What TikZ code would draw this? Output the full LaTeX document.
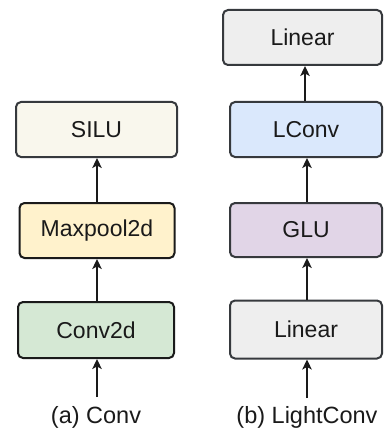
\documentclass[tikz,border=0pt]{standalone}
\usepackage{fontspec}
\setmainfont{Liberation Sans}
\usetikzlibrary{arrows.meta}
\definecolor{silufill}{HTML}{F9F7ED}
\definecolor{poolfill}{HTML}{FFF2CC}
\definecolor{convfill}{HTML}{D5E8D4}
\definecolor{linfill}{HTML}{EEEEEE}
\definecolor{lconvfill}{HTML}{DAE8FC}
\definecolor{glufill}{HTML}{E1D5E7}
\definecolor{edgegray}{HTML}{36393D}
\definecolor{edgedark}{HTML}{1A1A1A}
\definecolor{txt}{HTML}{1A1A1A}
\tikzset{
  block/.style={draw=edgegray, line width=2pt, rounded corners=5pt,
    inner sep=0pt, text=txt, font=\fontsize{23}{27}\selectfont},
  flow/.style={draw=edgedark, line width=1.4pt,
    -{Stealth[length=10pt,width=9.5pt,inset=2.5pt]}},
  caption/.style={text=txt, font=\fontsize{23.5}{28}\selectfont}
}
\begin{document}
\begin{tikzpicture}[x=1pt,y=-1pt]
\useasboundingbox (0,0) rectangle (384,441);
% left column: Conv
\node[block, fill=silufill, minimum width=161pt, minimum height=55pt] (silu) at (96.5,129.5) {SILU};
\node[block, draw=edgedark, fill=poolfill, minimum width=155pt, minimum height=55pt] (pool) at (97,230.5) {Maxpool2d};
\node[block, draw=edgedark, fill=convfill, minimum width=156pt, minimum height=56pt] (conv) at (96,330) {Conv2d};
\coordinate (inA) at (97,397);
\node[caption] (capA) at (96,417) {(a) Conv};
\draw[flow] (inA) -- (inA |- conv.south);
\draw[flow] (conv.north -| inA) -- (inA |- pool.south);
\draw[flow] (pool.north -| inA) -- (inA |- silu.south);
% right column: LightConv
\node[block, fill=linfill, minimum width=159pt, minimum height=55pt] (lintop) at (302.5,37.5) {Linear};
\node[block, fill=lconvfill, minimum width=152pt, minimum height=55pt] (lconv) at (306,129.5) {LConv};
\node[block, fill=glufill, minimum width=152pt, minimum height=54pt] (glu) at (306,230) {GLU};
\node[block, fill=linfill, minimum width=152pt, minimum height=58pt] (linbot) at (306,329.5) {Linear};
\coordinate (inB) at (307,398);
\node[caption] (capB) at (307,417) {(b) LightConv};
\draw[flow] (inB) -- (inB |- linbot.south);
\draw[flow] (linbot.north -| inB) -- (inB |- glu.south);
\draw[flow] (glu.north -| inB) -- (inB |- lconv.south);
\draw[flow] ([xshift=-1pt]lconv.north) -- ([xshift=-1pt]lconv.north |- lintop.south);
\end{tikzpicture}
\end{document}
